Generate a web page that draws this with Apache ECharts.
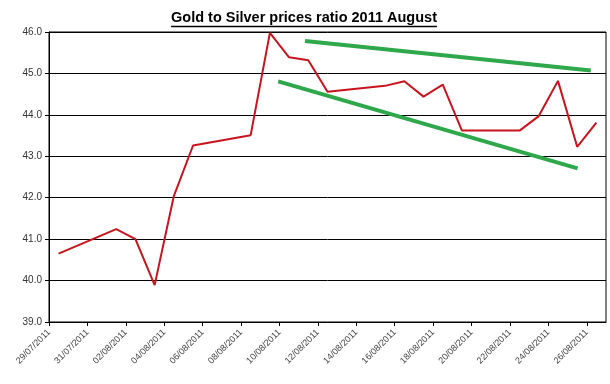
<!DOCTYPE html>
<html>
<head>
<meta charset="utf-8">
<script src="https://cdn.jsdelivr.net/npm/echarts@6/dist/echarts.min.js"></script>
<style>html,body{margin:0;padding:0;background:#fff;}#c{width:610px;height:384px;}</style>
</head>
<body>
<div id="c"></div>
<script>
// ---- data ----
var titleText = 'Gold to Silver prices ratio 2011 August';
var startDate = '29/07/2011';
var endDate = '27/08/2011';
var dates = ['29/07/2011','01/08/2011','02/08/2011','03/08/2011','04/08/2011','05/08/2011',
  '08/08/2011','09/08/2011','10/08/2011','11/08/2011','12/08/2011',
  '15/08/2011','16/08/2011','17/08/2011','18/08/2011','19/08/2011',
  '22/08/2011','23/08/2011','24/08/2011','25/08/2011','26/08/2011'];
var ratios = [40.65,41.24,41.00,39.89,42.04,43.26,
  43.51,45.98,45.39,45.32,44.56,
  44.70,44.81,44.44,44.73,43.62,
  43.62,43.97,44.82,43.23,43.81];
// trend lines: [day position from 29/07 (fractional), ratio]
var upperTrend = [[13.33,45.78],[28.21,45.07]];
var lowerTrend = [[11.93,44.81],[27.52,42.71]];
var yMin = 39, yMax = 46, yStep = 1;
var xStepDays = 2;

function parseD(s){var p=s.split('/');return Date.UTC(+p[2],+p[1]-1,+p[0]);}
var DAY = 86400000;
var t0 = parseD(startDate);
var xMax = (parseD(endDate)-t0)/DAY;
function fmtDay(v){
  var d = new Date(t0 + v*DAY);
  var dd = ('0'+d.getUTCDate()).slice(-2), mm=('0'+(d.getUTCMonth()+1)).slice(-2);
  return dd+'/'+mm+'/'+d.getUTCFullYear();
}
var lineData = dates.map(function(s,i){return [(parseD(s)-t0)/DAY + 0.5, ratios[i]];});

var titleFont = 'bold 14.5px "Liberation Sans", Arial, sans-serif';
var cv = document.createElement('canvas').getContext('2d');
cv.font = titleFont;
var tw = cv.measureText(titleText).width;
var tcx = 304;

var chart = echarts.init(document.getElementById('c'), null, {renderer:'canvas'});
chart.setOption({
  backgroundColor:'#fff',
  animation:false,
  grid:{left:49,right:4,top:32,bottom:62,show:true,borderColor:'#000',borderWidth:1,backgroundColor:'transparent'},
  xAxis:{
    type:'value', min:0, max:xMax, interval:xStepDays,
    axisLine:{show:true,lineStyle:{color:'#000',width:1}},
    axisTick:{show:true,inside:false,length:4,lineStyle:{color:'#000'}},
    splitLine:{show:false},
    axisLabel:{show:true,rotate:45,fontSize:9,color:'#444',fontFamily:'"Liberation Sans", Arial, sans-serif',
      margin:9,showMaxLabel:false,formatter:function(v){return fmtDay(v);}}
  },
  yAxis:{
    type:'value', min:yMin, max:yMax, interval:yStep,
    axisLine:{show:true,lineStyle:{color:'#000',width:1}},
    axisTick:{show:true,inside:false,length:4,lineStyle:{color:'#000'}},
    splitLine:{show:true,lineStyle:{color:'#000',width:1}},
    axisLabel:{fontSize:10,color:'#333',margin:7,fontFamily:'"Liberation Sans", Arial, sans-serif',
      formatter:function(v){return v.toFixed(1);}}
  },
  series:[
    {type:'line',data:lineData,symbol:'none',lineStyle:{color:'#c8141e',width:2},z:3},
    {type:'line',data:upperTrend,symbol:'none',lineStyle:{color:'#2ea84a',width:4},z:4},
    {type:'line',data:lowerTrend,symbol:'none',lineStyle:{color:'#2ea84a',width:4},z:4}
  ],
  graphic:[
    {type:'text',style:{text:titleText,x:tcx,y:18,textAlign:'center',textVerticalAlign:'middle',font:titleFont,fill:'#000'}},
    {type:'line',shape:{x1:tcx-tw/2,y1:26.5,x2:tcx+tw/2,y2:26.5},style:{stroke:'#000',lineWidth:1.5}}
  ]
});
</script>
</body>
</html>
